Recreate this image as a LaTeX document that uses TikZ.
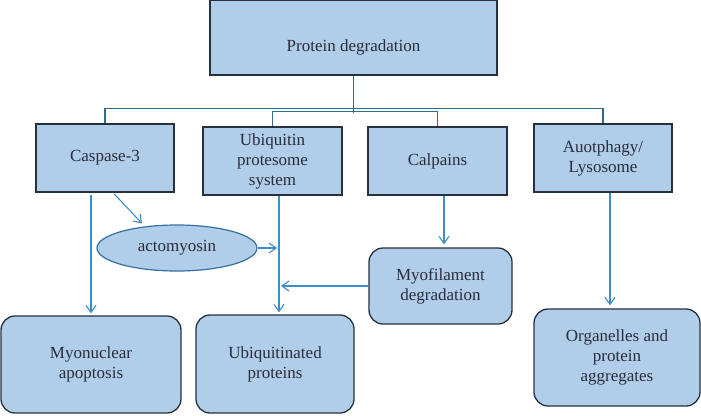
\documentclass[tikz,border=0pt]{standalone}
\usepackage{fontspec}
\setmainfont{Liberation Serif}
\usetikzlibrary{arrows.meta,shapes.geometric}
\definecolor{boxfill}{HTML}{B0CEEA}
\definecolor{boxline}{HTML}{27313B}
\definecolor{treeline}{HTML}{2F6C8C}
\definecolor{arrline}{HTML}{3B8ECA}
\definecolor{txt}{HTML}{2A2C3A}
\definecolor{ellline}{HTML}{3570A0}
\begin{document}
\begin{tikzpicture}[x=1pt,y=-1pt,
  every node/.style={text=txt,font=\fontsize{17}{20}\selectfont,align=center,inner sep=0pt},
  sqbox/.style={draw=boxline,fill=boxfill,line width=1.3pt,rectangle},
  rbox/.style={draw=boxline,fill=boxfill,line width=1.3pt,rectangle,rounded corners=14pt},
  tree/.style={draw=treeline,line width=1.2pt},
  arr/.style={draw=arrline,line width=1.1pt,-{Straight Barb[length=7pt,width=10pt]}}
]
\useasboundingbox (0,0) rectangle (701,415);

\node[sqbox,minimum width=287pt,minimum height=75pt,text height=27pt,text depth=0pt] (top) at (353.5,37.5) {Protein degradation};

\node[sqbox,minimum width=138pt,minimum height=68pt] (casp) at (105,158) {Caspase-3};
\node[sqbox,minimum width=139pt,minimum height=68pt] (ubi) at (272.5,161) {Ubiquitin\\protesome\\system};
\node[sqbox,minimum width=139pt,minimum height=68pt] (calp) at (437.5,161) {Calpains};
\node[sqbox,minimum width=138pt,minimum height=68pt] (auto) at (603,158) {Auotphagy/\\Lysosome};

\node[ellipse,draw=ellline,fill=boxfill,line width=1.2pt,minimum width=160pt,minimum height=46pt] (act) at (177,248) {actomyosin};

\node[rbox,minimum width=143pt,minimum height=76pt] (myof) at (440.5,286) {Myofilament\\degradation};
\node[rbox,minimum width=180pt,minimum height=97pt] (myonuc) at (91,364.5) {Myonuclear\\apoptosis};
\node[rbox,minimum width=158pt,minimum height=98pt] (ubiq) at (275,364) {Ubiquitinated\\proteins};
\node[rbox,minimum width=166pt,minimum height=97pt] (org) at (617,357.5) {Organelles and\\protein\\aggregates};

% tree
\draw[tree] (casp.north) -- ++(0,-15) -| (auto.north);
\draw[tree] (ubi.north) -- ++(0,-15) -| (calp.north);
\draw[tree] (top.south) -- ++(0,37);

% arrows
\coordinate (ut) at ([xshift=6.5pt]ubi.south);
\coordinate (ub) at (ut |- ubiq.north);
\draw[arr,shorten <=2pt,shorten >=2pt] (myonuc.north |- casp.south) -- (myonuc.north);
\draw[arr,shorten <=2pt] ([xshift=8pt]casp.south) -- ([xshift=-35pt,yshift=1pt]act.north);
\draw[arr,shorten >=2pt] (act.east) -- (act.east -| ut);
\draw[arr,shorten >=2pt] (ut) -- (ub);
\draw[arr,shorten >=3pt] ([xshift=6.5pt]calp.south) -- ([xshift=6.5pt]calp.south |- myof.north);
\draw[arr,shorten >=2pt] (myof.west) -- (myof.west -| ut);
\draw[arr,shorten >=3pt] ([xshift=7pt]auto.south) -- ([xshift=7pt]auto.south |- org.north);
\end{tikzpicture}
\end{document}
